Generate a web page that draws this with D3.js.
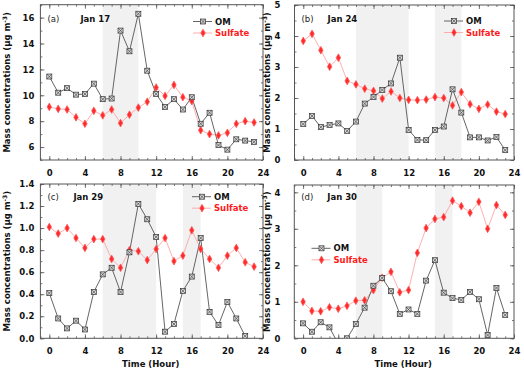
<!DOCTYPE html>
<html>
<head>
<meta charset="utf-8">
<script src="https://cdn.jsdelivr.net/npm/d3@7"></script>
<style>
  body { margin: 0; background: #fff; }
  text { font-family: "DejaVu Sans", Verdana, sans-serif; }
</style>
</head>
<body>
<script>
// hours of the day
var hours = d3.range(0, 24);

// Jan 17
var omA  = [11.45, 10.2, 10.55, 10.05, 10.1, 10.9, 9.7, 9.75, 15.0, 13.4, 16.3, 11.9, 10.1, 9.1, 9.7, 8.9, 9.85, 7.8, 8.65, 6.15, 5.8, 6.6, 6.5, 6.4];
var sulA = [9.1, 8.95, 8.9, 8.3, 7.8, 8.8, 8.45, 8.9, 7.85, 8.5, 9.05, 9.5, 10.6, 9.95, 10.8, 9.85, 9.55, 7.3, 7.0, 6.9, 7.1, 7.8, 8.0, 7.9];
// Jan 24
var omB  = [1.16, 1.42, 1.06, 1.13, 1.18, 0.94, 1.24, 1.82, 2.03, 2.26, 2.47, 3.3, 0.97, 0.65, 0.64, 0.97, 1.08, 2.28, 1.53, 0.73, 0.73, 0.63, 0.74, 0.32];
var sulB = [3.84, 4.07, 3.54, 3.01, 3.3, 2.55, 2.44, 2.3, 2.23, 1.98, 2.21, 2.0, 1.94, 1.93, 1.95, 2.03, 2.0, 1.76, 2.19, 1.8, 1.65, 1.79, 1.56, 1.48];
// Jan 29
var omC  = [0.41, 0.18, 0.09, 0.16, 0.08, 0.42, 0.58, 0.64, 0.42, 0.78, 1.22, 1.08, 0.92, 0.06, 0.13, 0.43, 0.56, 0.91, 0.24, 0.12, 0.33, 0.18, 0.02, null];
var sulC = [1.01, 0.95, 1.0, 0.91, 0.82, 0.9, 0.9, 0.72, 0.64, 0.8, 0.79, 0.71, 0.81, 0.91, 0.7, 0.75, 0.98, 0.81, 0.72, 0.64, 0.75, 0.82, 0.69, 0.65];
// Jan 30
var omD  = [0.41, 0.18, 0.44, 0.3, -0.15, 0.0, 0.39, 0.84, 1.44, 1.65, 1.29, 0.67, 0.79, 0.67, 1.58, 2.14, 1.25, 1.1, 1.05, 1.27, 1.07, 0.09, 1.38, 0.64];
var sulD = [1.0, 0.75, 0.74, 0.85, 0.81, 0.89, 1.03, 1.04, 1.32, 1.66, 1.82, 1.26, 1.32, 2.34, 3.02, 3.27, 3.32, 3.77, 3.62, 3.44, 3.74, 3.0, 3.65, 3.38];

// shaded hour ranges
var shadeA = [[6, 10]];
var shadeB = [[6, 12], [15, 18]];
var shadeC = [[6, 12], [15, 17]];
var shadeD = [[6, 9], [15, 17]];

// ticks
var xTicks = [0, 4, 8, 12, 16, 20, 24];
var yTicksA = [6, 8, 10, 12, 14, 16];
var yTicksB = [0, 1, 2, 3, 4, 5];
var yTicksC = [0, 0.2, 0.4, 0.6, 0.8, 1.0, 1.2, 1.4];
var yTicksD = [0, 1, 2, 3, 4];

var width = 524, height = 372;

var svg = d3.select("body").append("svg")
    .attr("width", width)
    .attr("height", height);

var defs = svg.append("defs");

var panels = [
  { id: "a", label: "(a)", date: "Jan 17", om: omA, sul: sulA, shade: shadeA, yDomain: [5, 17], yTicks: yTicksA, yMinor: d3.range(5, 17.01, 1), fmt: d3.format("d"),
    box: [40.4, 263, 4.7, 160], pad: 6, ylabX: 7, legend: [193, 21.5], showXTitle: false, tagY: 22 },
  { id: "b", label: "(b)", date: "Jan 24", om: omB, sul: sulB, shade: shadeB, yDomain: [0, 5], yTicks: yTicksB, yMinor: d3.range(0, 5.01, 0.5), fmt: d3.format("d"),
    box: [294.5, 514, 5, 160], pad: 14, ylabX: 267, legend: [444, 21], showXTitle: false, tagY: 22 },
  { id: "c", label: "(c)", date: "Jan 29", om: omC, sul: sulC, shade: shadeC, yDomain: [0, 1.4], yTicks: yTicksC, yMinor: d3.range(0, 1.401, 0.1), fmt: d3.format(".1f"),
    box: [40.4, 263, 184, 338.3], pad: 6, ylabX: 7, legend: [192, 196.7], showXTitle: true, tagY: 200 },
  { id: "d", label: "(d)", date: "Jan 30", om: omD, sul: sulD, shade: shadeD, yDomain: [0, 4.2], yTicks: yTicksD, yMinor: d3.range(0, 4.01, 0.5), fmt: d3.format("d"),
    box: [294.3, 514, 185, 338.3], pad: 14, ylabX: 267, legend: [311.5, 248.3], showXTitle: true, tagY: 200 }
];

// OM marker: grey square with a cross
function omMarker(sel) {
  sel.append("rect").attr("x", -2.5).attr("y", -2.5).attr("width", 5).attr("height", 5)
    .style("fill", "#d8d8d8").style("stroke", "#333").style("stroke-width", 0.7);
  sel.append("path").attr("d", "M-2.5,-2.5L2.5,2.5M2.5,-2.5L-2.5,2.5")
    .style("stroke", "#333").style("stroke-width", 0.6);
}
var sulSymbol = d3.symbol().type(d3.symbolDiamond).size(17);

panels.forEach(function(p) {
  var x0 = p.box[0], x1 = p.box[1], y0 = p.box[2], y1 = p.box[3];
  var x = d3.scaleLinear().domain([-1, 24]).range([x0, x1]);
  var y = d3.scaleLinear().domain(p.yDomain).range([y1, y0]);

  var g = svg.append("g");

  defs.append("clipPath").attr("id", "clip-" + p.id)
    .append("rect").attr("x", x0).attr("y", y0).attr("width", x1 - x0).attr("height", y1 - y0);

  // shaded bands
  g.selectAll("rect.shade").data(p.shade).enter().append("rect")
    .attr("class", "shade")
    .attr("x", d => x(d[0]))
    .attr("y", y0)
    .attr("width", d => x(d[1]) - x(d[0]))
    .attr("height", y1 - y0)
    .style("fill", "#f1f1f1");

  // axes: major + minor ticks pointing inward on all four sides
  var hourTicks = d3.range(-1, 25, 1);
  var axisColor = "#555";

  function styleAxis(sel) {
    sel.select(".domain").remove();
    sel.selectAll("line").style("stroke", axisColor).style("stroke-width", 0.8);
    sel.selectAll("text").style("font-size", "8.5px").style("font-weight", "bold").style("fill", "#111");
  }

  g.append("g").attr("transform", "translate(0," + y1 + ")")
    .call(d3.axisBottom(x).tickValues(hourTicks).tickSize(-2).tickFormat("")).call(styleAxis);
  g.append("g").attr("transform", "translate(0," + y1 + ")")
    .call(d3.axisBottom(x).tickValues(xTicks).tickSize(-4).tickPadding(10).tickFormat(d3.format("d"))).call(styleAxis);
  g.append("g").attr("transform", "translate(0," + y0 + ")")
    .call(d3.axisTop(x).tickValues(hourTicks).tickSize(-2).tickFormat("")).call(styleAxis);
  g.append("g").attr("transform", "translate(0," + y0 + ")")
    .call(d3.axisTop(x).tickValues(xTicks).tickSize(-4).tickFormat("")).call(styleAxis);

  g.append("g").attr("transform", "translate(" + x0 + ",0)")
    .call(d3.axisLeft(y).tickValues(p.yMinor).tickSize(-2).tickFormat("")).call(styleAxis);
  g.append("g").attr("transform", "translate(" + x0 + ",0)")
    .call(d3.axisLeft(y).tickValues(p.yTicks).tickSize(-4).tickPadding(p.pad).tickFormat(p.fmt)).call(styleAxis);
  g.append("g").attr("transform", "translate(" + x1 + ",0)")
    .call(d3.axisRight(y).tickValues(p.yMinor).tickSize(-2).tickFormat("")).call(styleAxis);
  g.append("g").attr("transform", "translate(" + x1 + ",0)")
    .call(d3.axisRight(y).tickValues(p.yTicks).tickSize(-4).tickFormat("")).call(styleAxis);

  // frame
  g.append("rect")
    .attr("x", x0).attr("y", y0)
    .attr("width", x1 - x0).attr("height", y1 - y0)
    .style("fill", "none").style("stroke", axisColor).style("stroke-width", 1);

  var data = g.append("g").attr("clip-path", "url(#clip-" + p.id + ")");

  var line = d3.line().defined(d => d[1] != null).x(d => x(d[0])).y(d => y(d[1]));

  // sulfate line
  var sulPts = hours.map((h, i) => [h, p.sul[i]]);
  data.append("path").datum(sulPts).attr("d", line)
    .style("fill", "none").style("stroke", "#ff9a9a").style("stroke-width", 0.8);

  // OM line
  var omPts = hours.map((h, i) => [h, p.om[i]]);
  data.append("path").datum(omPts).attr("d", line)
    .style("fill", "none").style("stroke", "#555").style("stroke-width", 0.9);

  data.selectAll("path.sul").data(sulPts.filter(d => d[1] != null)).enter().append("path")
    .attr("class", "sul")
    .attr("transform", d => "translate(" + x(d[0]) + "," + y(d[1]) + ")")
    .attr("d", sulSymbol)
    .style("fill", "#ff2a2a").style("stroke", "#ff5a5a").style("stroke-width", 0.8)
    .style("stroke-linejoin", "round");

  data.selectAll("g.om").data(omPts.filter(d => d[1] != null)).enter().append("g")
    .attr("class", "om")
    .attr("transform", d => "translate(" + x(d[0]) + "," + y(d[1]) + ")")
    .call(omMarker);

  // panel tag and date
  g.append("text").attr("x", x0 + 7).attr("y", p.tagY).text(p.label)
    .style("font-size", "8.5px").style("fill", "#222");
  g.append("text").attr("x", x0 + (p.id === "a" ? 40 : 33)).attr("y", p.tagY).text(p.date)
    .style("font-size", "8.5px").style("font-weight", "bold").style("fill", "#111");

  // legend
  var lx = p.legend[0], ly = p.legend[1];
  g.append("line").attr("x1", lx).attr("x2", lx + 19).attr("y1", ly).attr("y2", ly)
    .style("stroke", "#555").style("stroke-width", 0.9);
  g.append("g").attr("transform", "translate(" + (lx + 10) + "," + ly + ")").call(omMarker);
  g.append("text").attr("x", lx + 22).attr("y", ly + 3).text("OM")
    .style("font-size", "8.5px").style("font-weight", "bold").style("fill", "#111");

  var ly2 = ly + 11.5;
  g.append("line").attr("x1", lx).attr("x2", lx + 19).attr("y1", ly2).attr("y2", ly2)
    .style("stroke", "#ff9a9a").style("stroke-width", 0.8);
  g.append("path").attr("transform", "translate(" + (lx + 10) + "," + ly2 + ")")
    .attr("d", sulSymbol)
    .style("fill", "#ff2a2a").style("stroke", "#ff5a5a").style("stroke-width", 0.8)
    .style("stroke-linejoin", "round");
  g.append("text").attr("x", lx + 22).attr("y", ly2 + 3).text("Sulfate")
    .style("font-size", "8.5px").style("font-weight", "bold").style("fill", "#ff1a1a");

  // y title
  var cy = (y0 + y1) / 2;
  var yt = g.append("text")
    .attr("transform", "translate(" + (p.ylabX + 3) + "," + cy + ") rotate(-90)")
    .attr("text-anchor", "middle")
    .style("font-size", "8.5px").style("font-weight", "bold").style("fill", "#111");
  yt.append("tspan").text("Mass concentrations (\u03bcg m");
  yt.append("tspan").attr("dy", -3).style("font-size", "6px").text("-3");
  yt.append("tspan").attr("dy", 3).text(")");

  // x title
  if (p.showXTitle) {
    g.append("text").attr("x", (x0 + x1) / 2 - 1).attr("y", 367)
      .attr("text-anchor", "middle").text("Time (Hour)")
      .style("font-size", "8.5px").style("font-weight", "bold").style("fill", "#111");
  }
});
</script>
</body>
</html>
